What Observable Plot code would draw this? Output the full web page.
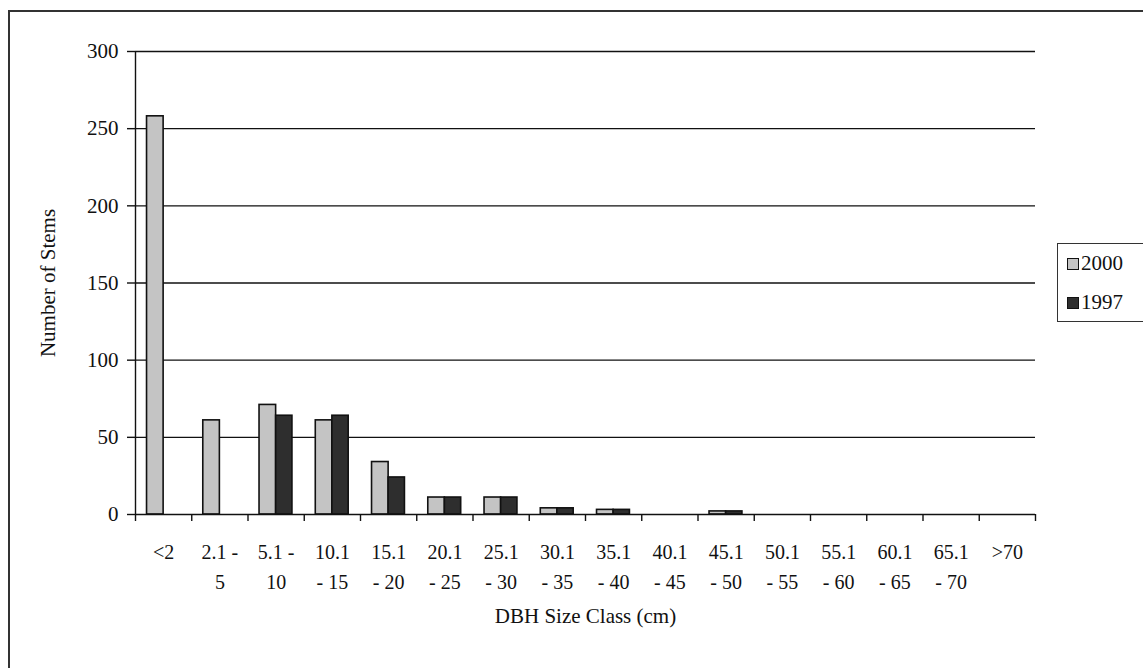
<!DOCTYPE html>
<html>
<head>
<meta charset="utf-8">
<script src="https://cdn.jsdelivr.net/npm/d3@7"></script>
<script src="https://cdn.jsdelivr.net/npm/@observablehq/plot@0.6"></script>
<style>
  html, body { margin: 0; padding: 0; background: #fff; overflow: hidden; }
  #wrap { position: relative; width: 1143px; height: 668px; font-family: "Liberation Serif", "DejaVu Serif", serif; }
  #frame { position: absolute; left: 8px; top: 10px; width: 1200px; height: 720px; border: 2px solid #333; box-sizing: border-box; }
  #chart { position: absolute; left: 0; top: 0; }
  #legend { position: absolute; left: 1057px; top: 243px; width: 110px; height: 79px; border: 1.5px solid #333; box-sizing: border-box; background: #fff; }
  .item { position: absolute; left: 9px; font-size: 21px; line-height: 22px; color: #111; }
  .sw { display: inline-block; width: 12px; height: 12px; border: 1.3px solid #111; vertical-align: 0px; margin-right: 2px; box-sizing: border-box; }
</style>
</head>
<body>
<div id="wrap">
  <div id="frame"></div>
  <div id="chart"></div>
  <div id="legend"></div>
</div>
<script>
// ---- data ----
const categories = ["<2", "2.1 -\n5", "5.1 -\n10", "10.1\n- 15", "15.1\n- 20", "20.1\n- 25", "25.1\n- 30",
  "30.1\n- 35", "35.1\n- 40", "40.1\n- 45", "45.1\n- 50", "50.1\n- 55", "55.1\n- 60", "60.1\n- 65", "65.1\n- 70", ">70"];
const series = ["2000", "1997"];
const values2000 = [258, 61, 71, 61, 34, 11, 11, 4, 3, 0, 2, 0, 0, 0, 0, 0];
const values1997 = [0, 0, 64, 64, 24, 11, 11, 4, 3, 0, 2, 0, 0, 0, 0, 0];
const yTicks = [0, 50, 100, 150, 200, 250, 300];
const yLabel = "Number of Stems";
const xLabel = "DBH Size Class (cm)";

const colors = {"2000": "#c4c4c4", "1997": "#2e2e2e"};

const rows = [];
categories.forEach((c, i) => {
  rows.push({index: i, category: c, series: "2000", value: values2000[i]});
  rows.push({index: i, category: c, series: "1997", value: values1997[i]});
});
const bars = rows.filter(d => d.value > 0);
const boundaries = d3.range(categories.length + 1);

const chart = Plot.plot({
  width: 1143,
  height: 668,
  marginLeft: 135,
  marginRight: 108,
  marginTop: 51,
  marginBottom: 154,
  style: {fontFamily: "Liberation Serif, serif", fontSize: "20px", color: "#111", background: "transparent"},
  x: {type: "linear", domain: [0, categories.length], axis: null},
  y: {domain: [0, 300], axis: null},
  marks: [
    Plot.gridY(yTicks.filter(t => t > 0), {stroke: "#111", strokeOpacity: 1, strokeWidth: 1.4}),
    Plot.rectY(bars, {
      x1: d => d.index + (d.series === "2000" ? 0.205 : 0.5),
      x2: d => d.index + (d.series === "2000" ? 0.5 : 0.79),
      y1: 0,
      y2: "value",
      fill: d => colors[d.series],
      stroke: "#111",
      strokeWidth: 1.6
    }),
    Plot.ruleX([0], {stroke: "#111", strokeWidth: 1.4}),
    Plot.ruleY([0], {stroke: "#111", strokeWidth: 1.4}),
    Plot.axisY({ticks: yTicks, label: null, tickSize: 8, tickPadding: 9, fontSize: 21, stroke: "#111", strokeWidth: 1.4}),
    Plot.axisX({ticks: boundaries, label: null, tickSize: 7, tickFormat: () => "", stroke: "#111", strokeWidth: 1.4}),
    Plot.text(categories, {
      x: (d, i) => i + 0.5,
      frameAnchor: "bottom",
      dy: 23,
      lineAnchor: "top",
      lineHeight: 1.5,
      fontSize: 20,
      fill: "#111"
    }),
    Plot.text([xLabel], {frameAnchor: "bottom", dy: 108, fontSize: 21, fill: "#111"}),
    Plot.text([yLabel], {frameAnchor: "left", dx: -87, rotate: -90, textAnchor: "middle", fontSize: 21, fill: "#111"})
  ]
});
document.getElementById("chart").appendChild(chart);

// legend
const legend = document.getElementById("legend");
series.forEach((s, k) => {
  const div = document.createElement("div");
  div.className = "item";
  div.style.top = (8 + k * 39) + "px";
  div.innerHTML = `<span class="sw" style="background:${colors[s]}"></span>${s}`;
  legend.appendChild(div);
});
</script>
</body>
</html>
